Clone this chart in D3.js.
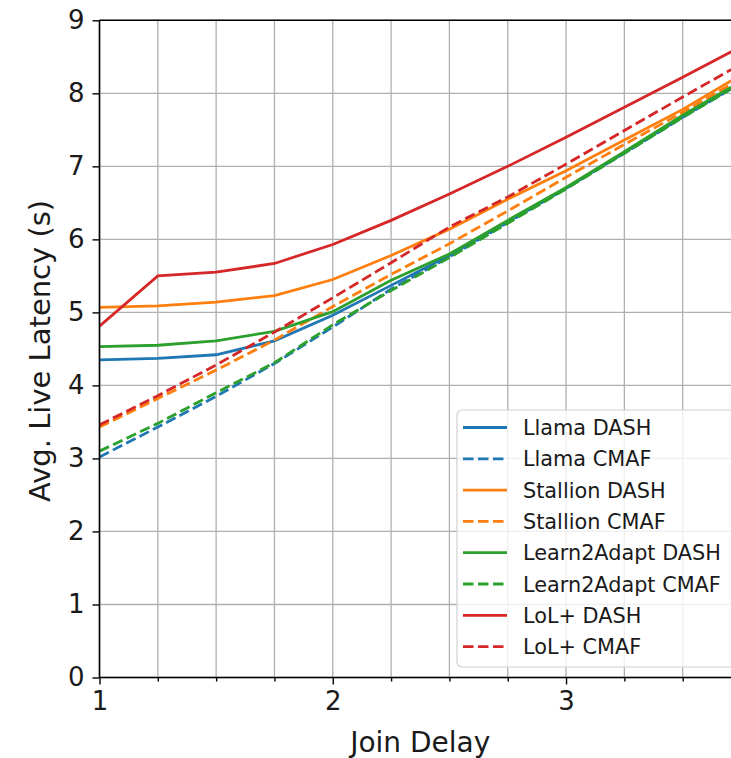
<!DOCTYPE html>
<html>
<head>
<meta charset="utf-8">
<script src="https://d3js.org/d3.v7.min.js"></script>
<style>
  html, body { margin: 0; padding: 0; background: #fff; }
  svg { display: block; font-family: "DejaVu Sans", sans-serif; }
</style>
</head>
<body>
<div id="chart"></div>
<script>
// join delay values (x)
const joinDelay = [1, 1.25, 1.5, 1.75, 2, 2.25, 2.5, 2.75, 3, 3.25, 3.5, 3.75];

// avg. live latency per algorithm / format
const llamaDash    = [4.35, 4.37, 4.42, 4.61, 4.96, 5.37, 5.78, 6.24, 6.70, 7.19, 7.68, 8.15];
const llamaCmaf    = [3.02, 3.43, 3.85, 4.30, 4.80, 5.32, 5.76, 6.23, 6.70, 7.18, 7.67, 8.14];
const stallionDash = [5.07, 5.09, 5.14, 5.23, 5.45, 5.78, 6.14, 6.55, 6.94, 7.36, 7.78, 8.25];
const stallionCmaf = [3.43, 3.82, 4.21, 4.62, 5.08, 5.52, 5.94, 6.39, 6.85, 7.30, 7.74, 8.20];
const l2aDash      = [4.53, 4.55, 4.61, 4.74, 5.01, 5.44, 5.80, 6.26, 6.71, 7.20, 7.70, 8.16];
const l2aCmaf      = [3.10, 3.48, 3.90, 4.31, 4.83, 5.30, 5.75, 6.22, 6.69, 7.18, 7.67, 8.14];
const lolDash      = [4.81, 5.50, 5.55, 5.67, 5.93, 6.26, 6.62, 7.00, 7.40, 7.81, 8.22, 8.64];
const lolCmaf      = [3.46, 3.86, 4.28, 4.73, 5.20, 5.68, 6.17, 6.58, 7.03, 7.49, 7.95, 8.40];

const seriesNames = ["Llama DASH", "Llama CMAF", "Stallion DASH", "Stallion CMAF",
                     "Learn2Adapt DASH", "Learn2Adapt CMAF", "LoL+ DASH", "LoL+ CMAF"];
const seriesValues = [llamaDash, llamaCmaf, stallionDash, stallionCmaf,
                      l2aDash, l2aCmaf, lolDash, lolCmaf];
const seriesColors = ["#1f77b4", "#1f77b4", "#ff7f0e", "#ff7f0e",
                      "#2ca02c", "#2ca02c", "#d62728", "#d62728"];
const seriesDashed = [false, true, false, true, false, true, false, true];

const xMajorTicks = [1, 2, 3];
const xMinorTicks = [1.25, 1.5, 1.75, 2.25, 2.5, 2.75, 3.25, 3.5];
const yTicks = [0, 1, 2, 3, 4, 5, 6, 7, 8, 9];

const width = 731, height = 758;
const plotLeft = 99.5, plotTop = 20.3, plotBottom = 677.5, plotRight = 741;

var x = d3.scaleLinear().domain([1, 3.75]).range([plotLeft, plotRight]);
var y = d3.scaleLinear().domain([0, 9]).range([plotBottom, plotTop]);

var svg = d3.select("#chart").append("svg")
    .attr("width", width)
    .attr("height", height);

svg.append("defs").append("clipPath").attr("id", "plotclip")
  .append("rect")
    .attr("x", plotLeft).attr("y", plotTop - 2)
    .attr("width", plotRight - plotLeft).attr("height", plotBottom - plotTop + 4);

// grid
var grid = svg.append("g");
grid.selectAll(".gx")
    .data(xMajorTicks.concat(xMinorTicks))
  .enter().append("line")
    .attr("x1", d => x(d)).attr("x2", d => x(d))
    .attr("y1", plotTop).attr("y2", plotBottom)
    .style("stroke", "#b0b0b0").style("stroke-width", 1.3);
grid.selectAll(".gy")
    .data(yTicks)
  .enter().append("line")
    .attr("x1", plotLeft).attr("x2", plotRight)
    .attr("y1", d => y(d)).attr("y2", d => y(d))
    .style("stroke", "#b0b0b0").style("stroke-width", 1.3);

// lines
var valueline = d3.line()
    .x(d => x(d[0]))
    .y(d => y(d[1]));

var lines = svg.append("g").attr("clip-path", "url(#plotclip)");
seriesValues.forEach(function(vals, i) {
  lines.append("path")
      .datum(joinDelay.map((j, k) => [j, vals[k]]))
      .attr("d", valueline)
      .style("fill", "none")
      .style("stroke", seriesColors[i])
      .style("stroke-width", 2.8)
      .style("stroke-dasharray", seriesDashed[i] ? "10.5,4.5" : null);
});

// axes
var yAxis = svg.append("g")
    .attr("transform", "translate(" + plotLeft + ",0)")
    .call(d3.axisLeft(y).tickValues(yTicks).tickSize(7).tickPadding(8));
var xAxis = svg.append("g")
    .attr("transform", "translate(0," + plotBottom + ")")
    .call(d3.axisBottom(x).tickValues(xMajorTicks).tickSize(7).tickPadding(7).tickFormat(d3.format("d")));
var xMinor = svg.append("g")
    .attr("transform", "translate(0," + plotBottom + ")")
    .call(d3.axisBottom(x).tickValues(xMinorTicks).tickSize(4).tickFormat(""));

[yAxis, xAxis, xMinor].forEach(function(a) {
  a.select(".domain").remove();
  a.selectAll(".tick line").style("stroke", "#000").style("stroke-width", 1.4);
  a.selectAll(".tick text").style("font-size", "26px").style("fill", "#1a1a1a")
      .style("font-family", "DejaVu Sans");
});

// spines
svg.append("line").attr("x1", plotLeft).attr("x2", plotLeft).attr("y1", plotTop).attr("y2", plotBottom)
    .style("stroke", "#000").style("stroke-width", 1.6);
svg.append("line").attr("x1", plotLeft).attr("x2", plotRight).attr("y1", plotBottom).attr("y2", plotBottom)
    .style("stroke", "#000").style("stroke-width", 1.6);
svg.append("line").attr("x1", plotLeft).attr("x2", plotRight).attr("y1", plotTop).attr("y2", plotTop)
    .style("stroke", "#000").style("stroke-width", 1.6);

// axis labels
svg.append("text")
    .attr("x", (plotLeft + plotRight) / 2)
    .attr("y", 751.5)
    .attr("text-anchor", "middle")
    .style("font-size", "28px")
    .style("fill", "#1a1a1a")
    .text("Join Delay");
svg.append("text")
    .attr("transform", "translate(50," + ((plotTop + plotBottom) / 2 + 2) + ") rotate(-90)")
    .attr("text-anchor", "middle")
    .style("font-size", "29px")
    .style("fill", "#1a1a1a")
    .text("Avg. Live Latency (s)");

// legend
var legend = svg.append("g");
legend.append("rect")
    .attr("x", 457).attr("y", 410)
    .attr("width", 290).attr("height", 257)
    .attr("rx", 5)
    .style("fill", "#fff").style("fill-opacity", 0.8)
    .style("stroke", "#d0d0d0").style("stroke-width", 1.2);
seriesNames.forEach(function(name, i) {
  var cy = 427.5 + i * 31.3;
  legend.append("line")
      .attr("x1", 463).attr("x2", 507)
      .attr("y1", cy).attr("y2", cy)
      .style("stroke", seriesColors[i])
      .style("stroke-width", 2.8)
      .style("stroke-dasharray", seriesDashed[i] ? "10.5,4.5" : null);
  legend.append("text")
      .attr("x", 523).attr("y", cy + 7.5)
      .style("font-size", "20.8px")
      .style("fill", "#1a1a1a")
      .text(name);
});
</script>
</body>
</html>
